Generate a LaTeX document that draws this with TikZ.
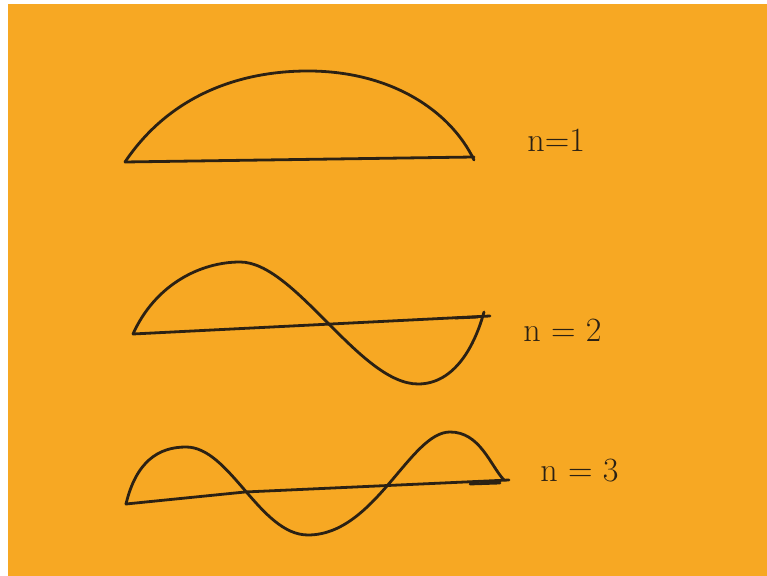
\documentclass[tikz,border=0pt]{standalone}
\usepackage{xcolor}
\usepackage{tikz}
\definecolor{BoardOrange}{HTML}{F7A823}
\definecolor{InkBrown}{HTML}{2B2114}
\tikzset{
  board/.style={fill=BoardOrange,draw=none},
  wave/.style={draw=InkBrown,line width=1.4pt,line cap=round,line join=round},
  axisline/.style={draw=InkBrown,line width=1.4pt,line cap=round},
  modelabel/.style={text=InkBrown,anchor=base west,inner sep=0pt,
    font=\fontsize{17}{20}\selectfont}
}
\begin{document}
\begin{tikzpicture}[x=0.5pt,y=-0.5pt]
  \useasboundingbox (0,0) rectangle (767,576);
  \fill[white] (0,0) rectangle (767,576);
  \fill[board] (8,4) rectangle (767,576);
  % n=1
  \coordinate (a1) at (125,162);
  \coordinate (b1) at (474,157);
  \draw[axisline] (a1) -- (b1);
  \draw[wave] (a1) .. controls (170,95) and (240,71) .. (308,71)
    .. controls (390,71) and (450,110) .. (474,160);
  \node[modelabel] (lbl1) at (527,152) {n=1};
  % n=2
  \coordinate (a2) at (133,334);
  \coordinate (b2) at (490,316);
  \draw[axisline] (a2) -- (b2);
  \draw[axisline] (455,318) -- (478,317);
  \draw[wave] (a2) .. controls (155,285) and (200,262) .. (240,262)
    .. controls (295,262) and (360,384) .. (418,384)
    .. controls (455,384) and (475,345) .. (484,312);
  \node[modelabel] (lbl2) at (523,342) {n = 2};
  % n=3
  \coordinate (a3) at (126,504);
  \coordinate (m3) at (245,492);
  \coordinate (b3) at (509,480);
  \draw[axisline] (a3) -- (m3) -- (b3);
  \draw[axisline] (470,484) -- (500,483);
  \draw[wave] (a3) .. controls (136,462) and (158,447) .. (186,447)
    .. controls (230,447) and (260,535) .. (308,535)
    .. controls (375,535) and (410,432) .. (450,432)
    .. controls (480,432) and (490,465) .. (504,480);
  \node[modelabel] (lbl3) at (540,482) {n = 3};
\end{tikzpicture}
\end{document}
